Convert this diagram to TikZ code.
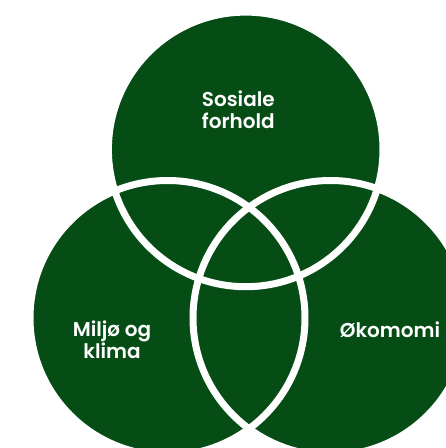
\documentclass[tikz,border=0pt]{standalone}
\usepackage{fontspec}
\setmainfont{Poppins}[BoldFont={Poppins SemiBold}]
\definecolor{vgreen}{RGB}{5,76,21}
\begin{document}
\begin{tikzpicture}[x=1pt,y=-1pt,
  circ/.style={fill=vgreen},
  ring/.style={draw=white,line width=7pt},
  lbl/.style={text=white,font=\bfseries\fontsize{20}{22}\selectfont,align=center,inner sep=0pt}]
\fill[white] (0,0) rectangle (446,448);
\useasboundingbox (0,0) rectangle (446,448);
\coordinate (ct) at (245.7,149.4);
\coordinate (cl) at (167.5,318);
\coordinate (cr) at (330.5,318);
\fill[circ] (ct) circle[radius=137.3];
\fill[circ] (cl) circle[radius=137.5];
\fill[circ] (cr) circle[radius=137.5];
\draw[ring] (ct) circle[radius=137.3];
\draw[ring] (cl) circle[radius=137.5];
\draw[ring] (cr) circle[radius=137.5];
\node[lbl] (sos) at (238.3,110) {Sosiale\\forhold};
\node[lbl] (mil) at (112,340) {Miljø og\\klima};
\node[lbl,anchor=base] (oko) at (390,337.3) {Økomomi};
\end{tikzpicture}
\end{document}
